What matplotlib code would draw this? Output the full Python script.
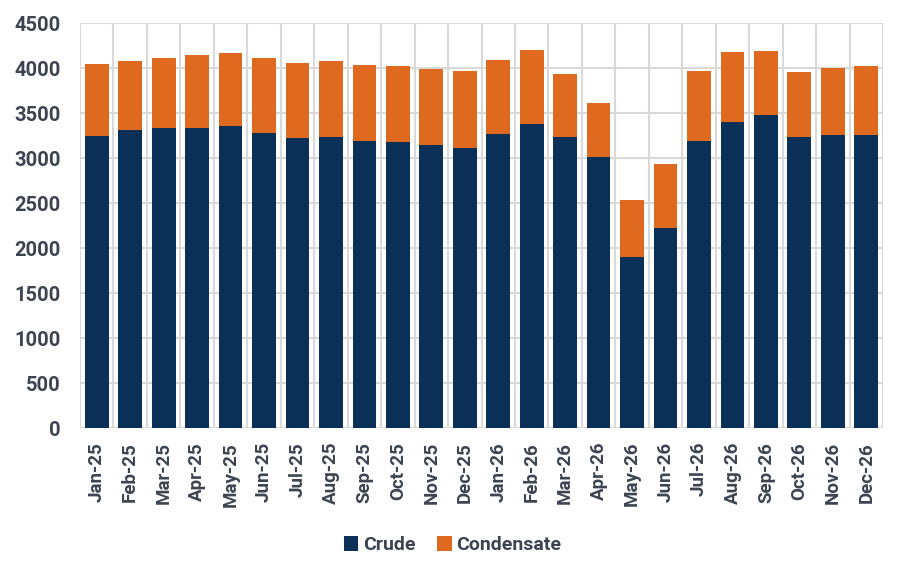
import numpy as np
import matplotlib.pyplot as plt
from matplotlib.ticker import MultipleLocator

months = ["Jan-25", "Feb-25", "Mar-25", "Apr-25", "May-25", "Jun-25",
          "Jul-25", "Aug-25", "Sep-25", "Oct-25", "Nov-25", "Dec-25",
          "Jan-26", "Feb-26", "Mar-26", "Apr-26", "May-26", "Jun-26",
          "Jul-26", "Aug-26", "Sep-26", "Oct-26", "Nov-26", "Dec-26"]
crude = [3248, 3315, 3337, 3337, 3359, 3281, 3226, 3237, 3192, 3181, 3148, 3115,
         3270, 3381, 3237, 3015, 1904, 2226, 3192, 3404, 3481, 3237, 3259, 3259]
total = [4044, 4078, 4111, 4144, 4167, 4111, 4056, 4078, 4033, 4022, 3989, 3967,
         4089, 4200, 3933, 3611, 2533, 2933, 3967, 4178, 4189, 3956, 4000, 4022]
condensate = [t - c for t, c in zip(total, crude)]

crude_col = "#0b3057"
cond_col = "#df6a1f"
text_col = "#3b4450"
grid_col = "#d9d9d9"

plt.rcParams['font.family'] = ['Roboto', 'DejaVu Sans']

fig = plt.figure(figsize=(9.05, 5.77), dpi=100)
ax = fig.add_axes([0.0884, 0.2582, 0.8873, 0.7019])

x = np.arange(len(months))
ax.bar(x, crude, width=0.71, color=crude_col, label="Crude", zorder=3)
ax.bar(x, condensate, width=0.71, bottom=crude, color=cond_col, label="Condensate", zorder=3)

ax.set_xlim(-0.5, len(months) - 0.5)
ax.set_ylim(0, 4500)
ax.yaxis.set_major_locator(MultipleLocator(500))
ax.set_xticks(x)
ax.set_xticklabels(months, rotation=90, fontsize=13.5, fontweight="bold", color=text_col)
ax.set_xticks(np.arange(-0.5, len(months)), minor=True)
ax.tick_params(axis="x", which="both", length=0, pad=10)
ax.tick_params(axis="y", length=0, pad=14, labelsize=14.5, labelcolor=text_col)
for lab in ax.get_yticklabels():
    lab.set_fontweight("bold")

ax.grid(axis="y", color=grid_col, linewidth=1.5, zorder=0)
ax.grid(axis="x", which="minor", color=grid_col, linewidth=1.5, zorder=0)
for s in ax.spines.values():
    s.set_visible(False)

fig.legend(loc="center", bbox_to_anchor=(0.5, 0.055), ncol=2, frameon=False,
           handlelength=0.75, handleheight=0.75, handletextpad=0.25, columnspacing=1.1,
           prop={"size": 14, "weight": "bold"}, labelcolor=text_col)

fig.savefig("out.png", dpi=100)
